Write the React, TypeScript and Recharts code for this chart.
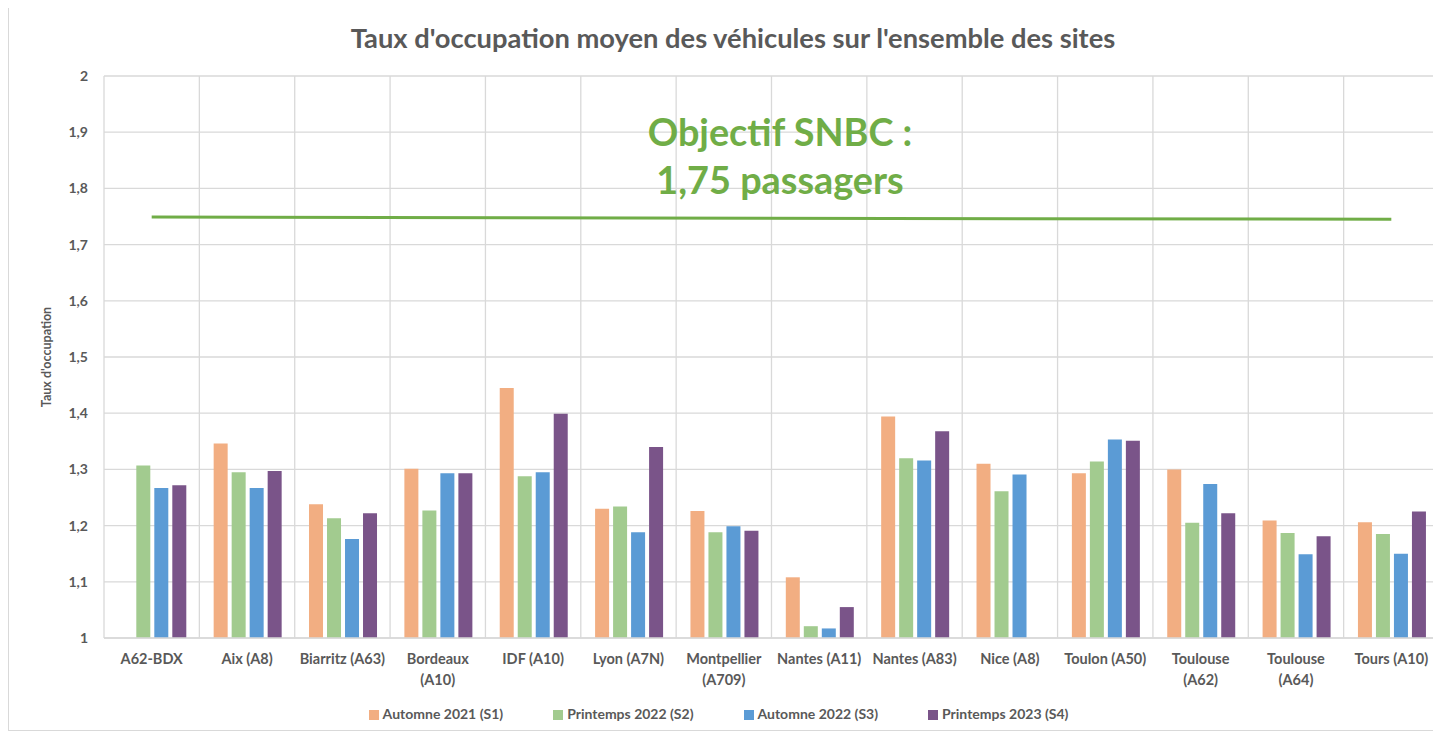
import React from 'react';
import { BarChart, Bar, XAxis, YAxis, CartesianGrid, Legend, ReferenceLine } from 'recharts';

const categories = [
  'A62-BDX', 'Aix (A8)', 'Biarritz (A63)', 'Bordeaux\n(A10)', 'IDF (A10)', 'Lyon (A7N)', 'Montpellier\n(A709)',
  'Nantes (A11)', 'Nantes (A83)', 'Nice (A8)', 'Toulon (A50)', 'Toulouse\n(A62)', 'Toulouse\n(A64)', 'Tours (A10)',
];

const automne2021 = [null, 1.346, 1.238, 1.301, 1.445, 1.23, 1.226, 1.108, 1.394, 1.31, 1.293, 1.3, 1.209, 1.206];
const printemps2022 = [1.307, 1.295, 1.213, 1.227, 1.288, 1.234, 1.188, 1.021, 1.32, 1.261, 1.314, 1.205, 1.187, 1.185];
const automne2022 = [1.267, 1.267, 1.176, 1.293, 1.295, 1.188, 1.199, 1.017, 1.316, 1.291, 1.353, 1.274, 1.149, 1.15];
const printemps2023 = [1.272, 1.297, 1.222, 1.293, 1.399, 1.34, 1.191, 1.055, 1.368, null, 1.351, 1.222, 1.181, 1.225];

const seriesNames = ['Automne 2021 (S1)', 'Printemps 2022 (S2)', 'Automne 2022 (S3)', 'Printemps 2023 (S4)'];
const seriesColors = ['#F2AE82', '#A2CB8F', '#5B9BD5', '#7A5489'];

const yTicks = [1, 1.1, 1.2, 1.3, 1.4, 1.5, 1.6, 1.7, 1.8, 1.9, 2];

// objectif SNBC : 1,75 passagers (trait tracé à la main, légèrement incliné)
const objectifStart = 1.749;
const objectifEnd = 1.745;

const FONT = 'Lato, "Open Sans", sans-serif';
const GREY = '#595959';

const chartData = categories.map((name, i) => ({
  name,
  s1: automne2021[i],
  s2: printemps2022[i],
  s3: automne2022[i],
  s4: printemps2023[i],
}));

const formatY = (v: number) => (Number.isInteger(v) ? String(v) : v.toFixed(1).replace('.', ','));

// vertical lines sit between categories, not on their centres
const boundaryLines = ({ offset }: any) =>
  Array.from({ length: categories.length + 1 }, (_, i) => offset.left + (i * offset.width) / categories.length);

const CategoryTick = ({ x, y, payload }: any) => {
  const lines = String(payload.value).split('\n');
  return (
    <text x={x} y={y} textAnchor="middle" fill={GREY} fontSize={14.5} fontWeight={700} fontFamily={FONT}>
      {lines.map((l, i) => (
        <tspan key={i} x={x} dy={i === 0 ? 18 : 21}>{l}</tspan>
      ))}
    </text>
  );
};

const App: React.FC = () => {
  const keys = ['s1', 's2', 's3', 's4'];
  return (
    <div style={{ position: 'relative', width: 1433, height: 725, fontFamily: FONT }}>
      <BarChart
        width={1433}
        height={725}
        data={chartData}
        margin={{ top: 68, right: 2, left: 0, bottom: 11 }}
        barCategoryGap="15%"
        barGap={4}
      >
        <CartesianGrid
          xAxisId="cat"
          stroke="#D9D9D9"
          strokeWidth={1.3}
          verticalCoordinatesGenerator={boundaryLines}
        />
        <XAxis
          xAxisId="cat"
          dataKey="name"
          axisLine={{ stroke: '#D9D9D9', strokeWidth: 1.3 }}
          tickLine={false}
          tickMargin={2}
          height={65}
          interval={0}
          tick={<CategoryTick />}
        />
        <YAxis
          domain={[1, 2]}
          ticks={yTicks}
          width={96}
          axisLine={false}
          tickLine={false}
          tickMargin={10}
          tickFormatter={formatY}
          tick={{ fill: GREY, fontSize: 14, fontWeight: 700, fontFamily: FONT }}
        />
        <Legend
          verticalAlign="bottom"
          iconType="square"
          iconSize={10}
          itemSorter="dataKey"
          formatter={(value) => (
            <span
              style={{
                color: GREY,
                fontSize: 14,
                fontWeight: 700,
                fontFamily: FONT,
                marginRight: value === seriesNames[3] ? 0 : 40,
              }}
            >
              {value}
            </span>
          )}
        />
        {keys.map((k, i) => (
          <Bar
            key={k}
            xAxisId="cat"
            dataKey={k}
            name={seriesNames[i]}
            fill={seriesColors[i]}
            isAnimationActive={false}
          />
        ))}
        <ReferenceLine
          xAxisId="cat"
          segment={[
            { x: categories[0], y: objectifStart },
            { x: categories[categories.length - 1], y: objectifEnd },
          ]}
          stroke="#70AD47"
          strokeWidth={3}
        />
      </BarChart>

      <svg
        width={1433}
        height={725}
        style={{ position: 'absolute', left: 0, top: 0, pointerEvents: 'none', overflow: 'visible' }}
      >
        <rect x={0.5} y={-0.5} width={1445} height={723} fill="none" stroke="#D9D9D9" />
        <text x={725} y={40} textAnchor="middle" fill={GREY} fontSize={27.3} fontWeight={700} fontFamily={FONT}>
          Taux d'occupation moyen des véhicules sur l'ensemble des sites
        </text>
        <text
          x={38}
          y={349}
          transform="rotate(-90, 38, 349)"
          textAnchor="middle"
          dominantBaseline="central"
          fill={GREY}
          fontSize={12.5}
          fontWeight={700}
          fontFamily={FONT}
        >
          Taux d'occupation
        </text>
        <text x={772} y={138} textAnchor="middle" fill="#70AD47" fontSize={37.8} fontWeight={700} fontFamily={FONT}>
          Objectif SNBC :
        </text>
        <text x={772} y={186} textAnchor="middle" fill="#70AD47" fontSize={37.8} fontWeight={700} fontFamily={FONT}>
          1,75 passagers
        </text>
      </svg>
    </div>
  );
};

export default App;
